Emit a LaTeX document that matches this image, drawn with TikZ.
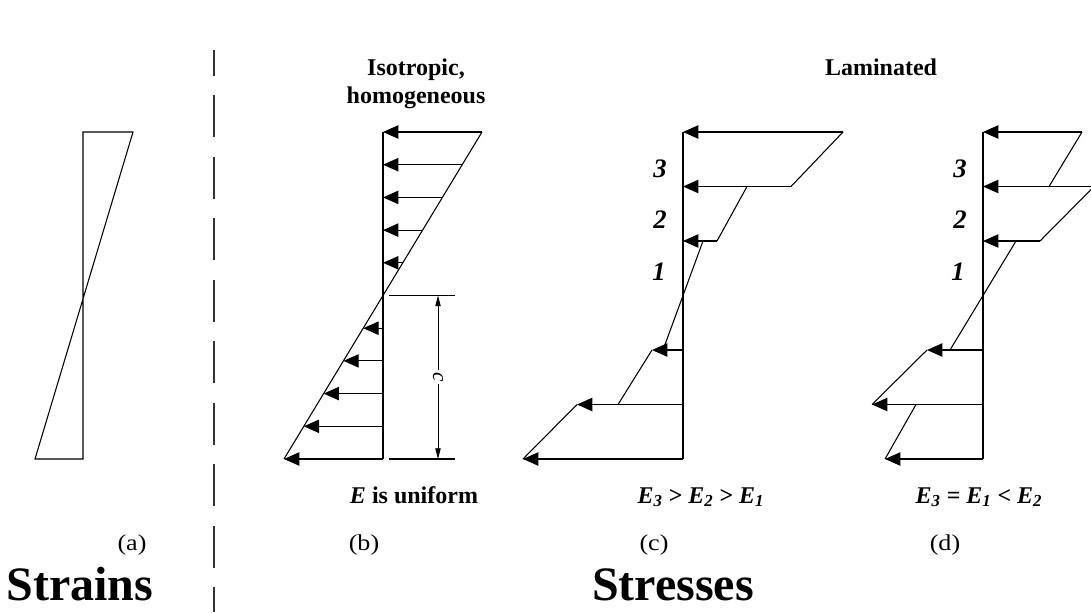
\documentclass[tikz,border=0pt]{standalone}
\usepackage{fontspec}
\setmainfont{Liberation Serif}
\usetikzlibrary{arrows.meta}
\newcommand{\widetxt}[1]{\scalebox{1.15}[1]{#1}}
\tikzset{
  ln/.style={line width=0.8pt},
  frc/.style={line width=0.8pt, -{Triangle[length=11.5pt,width=10pt]}},
  dimarr/.style={line width=0.6pt, {Triangle[length=8pt,width=4pt]}-{Triangle[length=8pt,width=4pt]}},
  dashline/.style={line width=1pt, draw=black!80, dash pattern=on 31.5pt off 14.6pt, dash phase=12pt},
  smtext/.style={font=\fontsize{18}{19}\selectfont\bfseries, anchor=base, inner sep=0pt},
  sublabel/.style={font=\fontsize{17}{18}\selectfont, anchor=base, inner sep=0pt},
  bigtext/.style={font=\fontsize{36}{36}\selectfont\bfseries, anchor=base, inner sep=0pt},
  layer/.style={font=\fontsize{20}{20}\selectfont\bfseries\itshape, anchor=base, inner sep=0pt},
}
\begin{document}
\begin{tikzpicture}[x=0.75pt,y=-0.75pt]
\useasboundingbox (0,0) rectangle (1091,612);
\fill[white] (0,0) rectangle (1091,612);

% divider
\coordinate (divT) at (214,50);
\coordinate (divB) at (214,612);
\draw[dashline] (divT) -- (divB);

% ---------- (a) strains ----------
\coordinate (aT) at (83,132);
\coordinate (aB) at (83,459);
\coordinate (aTR) at (133,132);
\coordinate (aBL) at (35,459);
\draw[ln] (aTR) -- (aT) -- (aB) -- (aBL) -- cycle;

% ---------- (b) isotropic ----------
\coordinate (bT) at (383,132);
\coordinate (bB) at (383,459);
\coordinate (bTR) at (482,132);
\coordinate (bBL) at (284,459);
\draw[ln] (bT) -- (bB);
\draw[ln] (bTR) -- (bBL);
\foreach \k in {0,...,4}{
  \pgfmathsetmacro{\yy}{132+\k*32.7}
  \pgfmathsetmacro{\xx}{383+(295.5-\yy)*0.6055}
  \draw[frc] (\xx,\yy) -- (383,\yy);
}
\foreach \k in {6,...,10}{
  \pgfmathsetmacro{\yy}{132+\k*32.7}
  \pgfmathsetmacro{\xx}{383+(295.5-\yy)*0.6055}
  \draw[frc] (383,\yy) -- (\xx,\yy);
}
% dimension c
\coordinate (dA1) at (389,295.5);
\coordinate (dA2) at (455,295.5);
\coordinate (dB1) at (389,459);
\coordinate (dB2) at (455,459);
\draw[ln] (dA1) -- (dA2);
\draw[ln] (dB1) -- (dB2);
\coordinate (dT) at (438,295.5);
\coordinate (dBt) at (438,459);
\draw[dimarr] (dT) -- (dBt);
\node[rotate=-90, fill=white, inner sep=2pt, font=\fontsize{16}{16}\selectfont\itshape] (clab) at (438,377) {c};

% ---------- (c) laminated E3>E2>E1 ----------
\draw[ln] (683,132) -- (683,459);
\draw[frc] (843,132) -- (683,132);
\draw[ln] (843,132) -- (791,186.5);
\draw[frc] (791,186.5) -- (683,186.5);
\draw[ln] (747,186.5) -- (717,241);
\draw[frc] (717,241) -- (683,241);
\draw[ln] (703,241) -- (663,350);
\draw[frc] (683,350) -- (652,350);
\draw[ln] (652,350) -- (618,404.5);
\draw[frc] (683,404.5) -- (577,404.5);
\draw[ln] (577,404.5) -- (523,459);
\draw[frc] (683,459) -- (523,459);

% ---------- (d) laminated E3=E1<E2 ----------
\draw[ln] (983,132) -- (983,459);
\draw[frc] (1082,132) -- (983,132);
\draw[ln] (1082,132) -- (1049,186.5);
\draw[frc] (1091,186.5) -- (983,186.5);
\draw[ln] (1091,189.5) -- (1040,241);
\draw[frc] (1040,241) -- (983,241);
\draw[ln] (1016,241) -- (950,350);
\draw[frc] (983,350) -- (927,350);
\draw[ln] (927,350) -- (872,404.5);
\draw[frc] (983,404.5) -- (872,404.5);
\draw[ln] (916,404.5) -- (885,459);
\draw[frc] (983,459) -- (885,459);

% layer numbers
\node[layer] (c3) at (660,177) {3};
\node[layer] (c2) at (660,228) {2};
\node[layer] (c1) at (659,280) {1};
\node[layer] (d3) at (960,177) {3};
\node[layer] (d2) at (960,228) {2};
\node[layer] (d1) at (958,280) {1};

% headings
\node[smtext] (iso) at (416,75) {Isotropic,};
\node[smtext] (hom) at (416,103) {homogeneous};
\node[smtext] (lam) at (881,75) {Laminated};

% conditions
\node[smtext] (eb) at (414,503) {\itshape E\upshape\ is uniform};
\node[smtext] (ec) at (701,503) {\itshape E\textsubscript{3} \upshape>\itshape\ E\textsubscript{2} \upshape>\itshape\ E\textsubscript{1}};
\node[smtext] (ed) at (979,503) {\itshape E\textsubscript{3} \upshape=\itshape\ E\textsubscript{1} \upshape<\itshape\ E\textsubscript{2}};

% sub labels
\node[sublabel] (la) at (132,550) {\widetxt{(a)}};
\node[sublabel] (lb) at (364,550) {\widetxt{(b)}};
\node[sublabel] (lc) at (654,550) {\widetxt{(c)}};
\node[sublabel] (ld) at (945,550) {\widetxt{(d)}};

% big titles
\node[bigtext] (strains) at (80,600) {Strains};
\node[bigtext] (stresses) at (673,600) {Stresses};
\end{tikzpicture}
\end{document}
